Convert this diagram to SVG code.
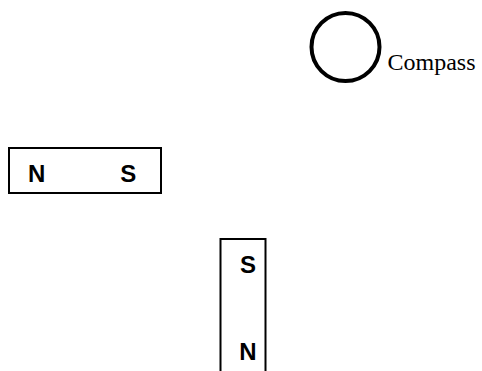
<svg xmlns="http://www.w3.org/2000/svg" width="482" height="371" viewBox="0 0 482 371">
<style>
.mag{fill:none;stroke:#000;stroke-width:2}
.pole{font-family:"Liberation Sans",Arial,sans-serif;font-weight:bold;font-size:24px;fill:#000;text-anchor:middle}
.lbl{font-family:"Liberation Serif","Times New Roman",serif;font-size:24px;fill:#000}
</style>
<rect width="482" height="371" fill="#fff"/>
<g id="compass">
<circle cx="345.5" cy="47" r="34" fill="none" stroke="#000" stroke-width="4"/>
<text class="lbl" x="387.5" y="70">Compass</text>
</g>
<g id="magnet1">
<rect class="mag" x="9" y="148" width="152" height="45"/>
<text class="pole" x="36.7" y="181.5">N</text>
<text class="pole" x="128.3" y="181.5">S</text>
</g>
<g id="magnet2">
<rect class="mag" x="220.5" y="239" width="45" height="150"/>
<text class="pole" x="248" y="272.5">S</text>
<text class="pole" x="248" y="360">N</text>
</g>
<g id="connectors"></g>
</svg>
